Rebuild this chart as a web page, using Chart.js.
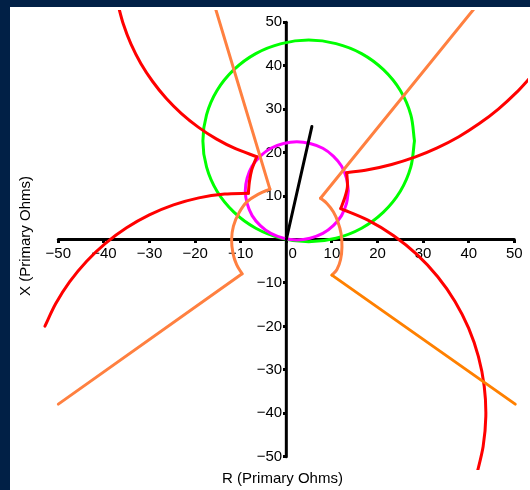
<!DOCTYPE html>
<html>
<head>
<meta charset="utf-8">
<script src="https://cdn.jsdelivr.net/npm/chart.js@4/dist/chart.umd.min.js"></script>
<style>
  html, body { margin: 0; padding: 0; background: #012046; }
  #wrap { position: absolute; left: 10px; top: 7px; width: 520px; height: 483px; background: #fff; }
</style>
</head>
<body>
<div id="wrap"><canvas id="chart" width="520" height="483"></canvas></div>
<script>
const tickValues = [-50, -40, -30, -20, -10, 0, 10, 20, 30, 40, 50];

// mho circle (green)
const greenR = [28.1, 27.3, 25.0, 21.3, 16.5, 10.9, 4.9, -1.1, -6.7, -11.5, -15.2, -17.5, -18.3, -17.5, -15.2, -11.5, -6.7, -1.1, 4.9, 10.9, 16.5, 21.3, 25.0, 27.3, 28.1];
const greenX = [22.7, 28.7, 34.3, 39.1, 42.8, 45.1, 45.9, 45.1, 42.8, 39.1, 34.3, 28.7, 22.7, 16.7, 11.1, 6.3, 2.6, 0.3, -0.5, 0.3, 2.6, 6.3, 11.1, 16.7, 22.7];

// small circle (magenta)
const magentaR = [13.6, 13.2, 12.1, 10.3, 8.0, 5.2, 2.3, -0.6, -3.4, -5.7, -7.5, -8.6, -9.0, -8.6, -7.5, -5.7, -3.4, -0.6, 2.3, 5.2, 8.0, 10.3, 12.1, 13.2, 13.6];
const magentaX = [11.2, 14.1, 16.9, 19.2, 21.0, 22.1, 22.5, 22.1, 21.0, 19.2, 16.9, 14.1, 11.2, 8.3, 5.5, 3.2, 1.4, 0.3, -0.1, 0.3, 1.4, 3.2, 5.5, 8.3, 11.2];

// red characteristic, left half
const redArcTopLeftR = [-37.0, -35.75, -34.06, -31.91, -29.32, -26.36, -23.0, -19.32, -15.37, -11.14, -6.51];
const redArcTopLeftX = [54.4, 49.59, 44.96, 40.52, 36.37, 32.5, 28.98, 25.87, 23.16, 20.9, 19.06];
const redNotchLeftR = [-6.51, -7.6, -8.1, -8.33];
const redNotchLeftX = [19.06, 16.0, 13.3, 10.64];
const redArcLowLeftR = [-8.33, -13.51, -19.19, -24.74, -30.04, -35.04, -39.67, -43.84, -47.5, -50.59, -52.94];
const redArcLowLeftX = [10.64, 10.47, 9.58, 7.96, 5.66, 2.69, -0.9, -5.06, -9.71, -14.8, -19.93];

// red characteristic, right half
const redArcTopRightR = [53.73, 50.48, 46.56, 42.32, 37.83, 33.09, 28.18, 23.09, 17.89, 13.25];
const redArcTopRightX = [37.57, 33.86, 30.09, 26.68, 23.66, 21.09, 18.95, 17.27, 16.05, 15.38];
const redNotchRightR = [13.25, 13.4, 12.9, 11.95];
const redNotchRightX = [15.38, 12.2, 9.9, 7.11];
const redArcLowRightR = [11.95, 17.89, 23.55, 28.68, 33.2, 36.99, 39.98, 42.13, 43.4, 43.75, 43.16, 41.69];
const redArcLowRightX = [7.11, 4.47, 0.87, -3.48, -8.56, -14.25, -20.42, -26.98, -33.79, -40.72, -47.63, -54.4];

// orange characteristic
const orangeUpLeftR = [-15.6, -3.6];
const orangeUpLeftX = [53.4, 11.6];
const orangeArcLeftR = [-3.6, -6.0, -8.6, -10.4, -11.6, -12.0, -11.7, -10.9, -9.7];
const orangeArcLeftX = [11.6, 10.5, 8.7, 6.1, 3.1, 0.0, -3.2, -5.8, -7.9];
const orangeLowLeftR = [-9.7, -50.0];
const orangeLowLeftX = [-7.9, -37.9];
const orangeUpRightR = [41.4, 7.5];
const orangeUpRightX = [53.4, 9.5];
const orangeArcRightR = [7.5, 8.9, 10.3, 11.3, 12.0, 12.2, 11.9, 11.1, 10.0];
const orangeArcRightX = [9.5, 8.3, 6.4, 4.1, 1.4, -1.7, -4.6, -6.9, -8.2];
const orangeLowRightR = [10.0, 50.2];
const orangeLowRightX = [-8.2, -37.9];

// line impedance phasor
const phasorR = [0, 5.6];
const phasorX = [0, 26.0];

const fontFamily = "'Liberation Sans', Arial, sans-serif";

function series(rs, xs, color, tension) {
    return {
        data: rs.map((r, i) => ({ x: r, y: xs[i] })),
        showLine: true,
        borderColor: color,
        borderWidth: 3,
        pointRadius: 0,
        tension: tension || 0,
        borderJoinStyle: 'round',
        borderCapStyle: 'round',
        fill: false
    };
}

function fmt(v) {
    return v < 0 ? '\u2212' + Math.abs(v) : String(v);
}

const first = tickValues[0];
const last = tickValues[tickValues.length - 1];
const coral = '#ff8040';
const red = '#ff0000';

const axisTitles = {
    id: 'axisTitles',
    afterDraw(chart) {
        const c = chart.ctx;
        c.save();
        c.fillStyle = '#000';
        c.font = '15px ' + fontFamily;
        c.textAlign = 'center';
        c.textBaseline = 'middle';
        c.fillText('R (Primary Ohms)', 272.5, 472);
        c.translate(16, 229);
        c.rotate(-Math.PI / 2);
        c.fillText('X (Primary Ohms)', 0, 0);
        c.restore();
    }
};

new Chart(document.getElementById('chart'), {
    type: 'scatter',
    data: {
        datasets: [
            series(orangeLowRightR, orangeLowRightX, '#ff8000'),
            series(orangeUpLeftR, orangeUpLeftX, coral),
            series(orangeArcLeftR, orangeArcLeftX, coral, 0.4),
            series(orangeLowLeftR, orangeLowLeftX, coral),
            series(orangeUpRightR, orangeUpRightX, coral),
            series(orangeArcRightR, orangeArcRightX, coral, 0.4),
            series(redArcTopLeftR, redArcTopLeftX, red, 0.3),
            series(redNotchLeftR, redNotchLeftX, red, 0.3),
            series(redArcLowLeftR, redArcLowLeftX, red, 0.3),
            series(redArcTopRightR, redArcTopRightX, red, 0.3),
            series(redNotchRightR, redNotchRightX, red, 0.3),
            series(redArcLowRightR, redArcLowRightX, red, 0.3),
            series(phasorR, phasorX, '#000000'),
            series(magentaR, magentaX, '#ff00ff', 0.34),
            series(greenR, greenX, '#00ff00', 0.34),
            series([first, last], [0, 0], '#000000'),
            series([0, 0], [first, last], '#000000')
        ]
    },
    options: {
        responsive: false,
        animation: false,
        layout: { padding: { top: 3, right: 2, bottom: 20, left: 0 } },
        plugins: { legend: { display: false }, tooltip: { enabled: false } },
        scales: {
            x: {
                type: 'linear',
                min: -60.6,
                max: 53.0,
                position: { y: 0 },
                afterBuildTicks: s => { s.ticks = tickValues.map(v => ({ value: v })); },
                afterFit: s => { s.height = 0; s.paddingLeft = 0; s.paddingRight = 0; },
                border: { display: false },
                grid: { drawOnChartArea: false, drawTicks: true, tickLength: 3, color: '#000', lineWidth: 3 },
                ticks: {
                    padding: 2,
                    color: '#000',
                    autoSkip: false,
                    maxRotation: 0,
                    font: { family: fontFamily, size: 15 },
                    callback: v => v === 0 ? '   0' : fmt(v)
                }
            },
            y: {
                type: 'linear',
                min: -53.06,
                max: 52.83,
                position: { x: 0 },
                afterBuildTicks: s => { s.ticks = tickValues.filter(v => v !== 0).map(v => ({ value: v })); },
                afterFit: s => { s.width = 0; s.paddingTop = 0; s.paddingBottom = 0; },
                border: { display: false },
                grid: { drawOnChartArea: false, drawTicks: true, tickLength: 3, color: '#000', lineWidth: 3 },
                ticks: {
                    padding: 1,
                    color: '#000',
                    autoSkip: false,
                    font: { family: fontFamily, size: 15 },
                    // trailing space keeps the label clear of the axis line
                    callback: v => fmt(v) + ' '
                }
            }
        }
    },
    plugins: [axisTitles]
});
</script>
</body>
</html>
